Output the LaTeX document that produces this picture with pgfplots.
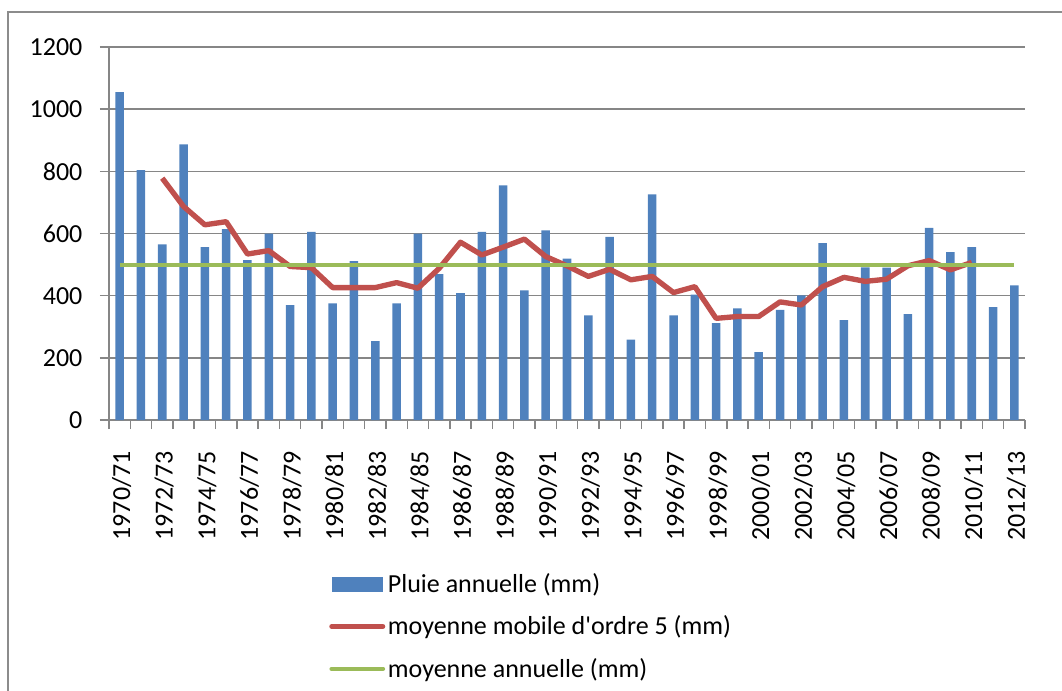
\documentclass[border=0pt]{standalone}
\usepackage{fontspec}
\setmainfont{Carlito}
\usepackage{pgfplots}
\pgfplotsset{compat=1.18}

\definecolor{barblue}{HTML}{4F81BD}
\definecolor{mared}{HTML}{C0504D}
\definecolor{moygreen}{HTML}{9BBB59}
\definecolor{gridgray}{HTML}{868686}
\definecolor{framegray}{HTML}{8C8C8C}

% pluie annuelle, index 0 = 1970/71
\pgfplotstableread{
x  pluie
0  1055
1  804
2  565
3  887
4  556
5  614
6  514
7  600
8  370
9  605
10 375
11 511
12 254
13 375
14 600
15 469
16 408
17 605
18 755
19 417
20 610
21 519
22 337
23 589
24 259
25 726
26 337
27 403
28 312
29 359
30 218
31 354
32 401
33 569
34 321
35 491
36 490
37 341
38 618
39 540
40 556
41 363
42 433
}\pluie

% moyenne mobile d'ordre 5
\pgfplotstableread{
x  mm
2  778
3  687
4  628
5  638
6  534
7  545
8  494
9  490
10 426
11 426
12 426
13 442
14 424
15 488
16 572
17 531
18 556
19 582
20 526
21 496
22 462
23 485
24 451
25 462
26 410
27 429
28 327
29 333
30 333
31 380
32 370
33 429
34 459
35 446
36 453
37 496
38 513
39 483
40 507
}\mobile

\begin{document}
\begin{tikzpicture}
\useasboundingbox (-81.75pt,-202.5pt) rectangle (714.75pt,315pt);
\begin{axis}[
    scale only axis,
    width=687pt, height=279.75pt,
    xmin=-0.5, xmax=42.5,
    ymin=0, ymax=1200,
    axis x line*=bottom, axis y line*=left,
    axis line style={draw=gridgray, line width=1.1pt, -},
    tick align=outside,
    major tick length=6.75pt,
    tick style={draw=gridgray, line width=1.1pt},
    ytick={0,200,...,1200},
    ymajorgrids,
    grid style={draw=gridgray, line width=1.1pt},
    xtick={-0.5,0.5,...,42.5},
    xticklabels={},
    extra x ticks={0,2,...,42},
    extra x tick labels={1970/71,1972/73,1974/75,1976/77,1978/79,1980/81,1982/83,1984/85,1986/87,1988/89,1990/91,1992/93,1994/95,1996/97,1998/99,2000/01,2002/03,2004/05,2006/07,2008/09,2010/11,2012/13},
    extra x tick style={tick style={draw=none},
        xticklabel style={yshift=-16.5pt, xshift=1.5pt, rotate=90, anchor=east, inner sep=0pt}},
    tick label style={font=\fontsize{19.5}{23.4}\selectfont, text=black},
    yticklabel style={inner sep=0pt, xshift=-13pt},
    /pgf/number format/assume math mode=true,
    /pgf/number format/set thousands separator={},
    legend style={at={(0,0)}, anchor=north west, xshift=165pt, yshift=-113pt,
        draw=none, fill=none, inner sep=0pt, row sep=12pt,
        font=\fontsize{19.5}{23.4}\selectfont},
    legend cell align=left,
]
\addplot[ybar, bar width=6.4pt, fill=barblue, draw=none,
    legend image code/.code={\fill[barblue] (0pt,-5.6pt) rectangle (38.5pt,5.6pt);}]
    table[x=x, y=pluie] {\pluie};
\addlegendentry{Pluie annuelle (mm)}
\addplot[mared, line width=4pt, line join=round, mark=none,
    legend image code/.code={\draw[mared, line width=3.5pt, line cap=round] (0pt,0pt) -- (38.5pt,0pt);}]
    table[x=x, y=mm] {\mobile};
\addlegendentry{moyenne mobile d\textquotesingle ordre 5 (mm)}
\addplot[moygreen, line width=3.3pt, mark=none,
    legend image code/.code={\draw[moygreen, line width=3.3pt, line cap=round] (0pt,0pt) -- (38.5pt,0pt);}]
    coordinates {(0,498) (42,498)};
\addlegendentry{moyenne annuelle (mm)}
\end{axis}
\draw[framegray, line width=1.5pt] (-75.75pt,-220pt) -- (-75.75pt,306pt) -- (730pt,306pt);
\end{tikzpicture}
\end{document}
